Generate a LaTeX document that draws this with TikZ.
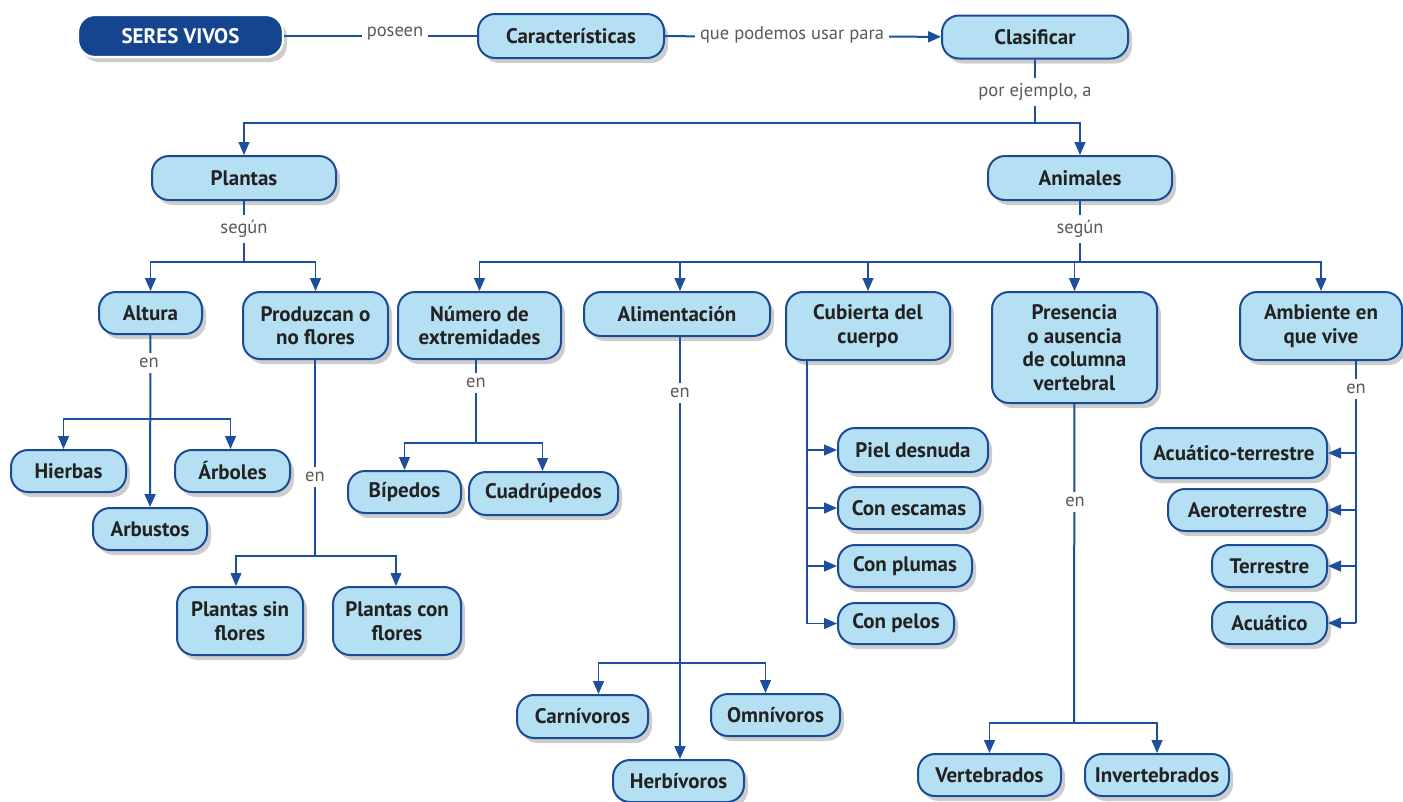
\documentclass[tikz,border=0pt]{standalone}
\usepackage{fontspec}
\setmainfont{PT Sans}
\usetikzlibrary{arrows.meta,shadows,calc}
\definecolor{boxfill}{HTML}{B5DFF2}
\definecolor{boxline}{HTML}{1B4A97}
\definecolor{titlefill}{HTML}{15458F}
\definecolor{linecol}{HTML}{1D4F9E}
\definecolor{txt}{HTML}{222222}
\definecolor{lab}{HTML}{5A5A5A}
\begin{document}
\begin{tikzpicture}[x=1pt,y=-1pt,
  box/.style={draw=boxline, line width=2pt, fill=boxfill, rounded corners=17pt,
    font=\fontsize{21}{23.5}\selectfont\bfseries, text=txt, align=center, inner sep=0pt,
    drop shadow={shadow xshift=4pt, shadow yshift=-5pt, opacity=0.28, fill=black!70}},
  title/.style={box, fill=titlefill, draw=white, text=white, line width=2.2pt},
  sz/.style 2 args={minimum width=#1pt, minimum height=#2pt},
  conn/.style={draw=linecol, line width=2pt},
  br/.style={draw=linecol, line width=1.3pt},
  arr/.style={-{Triangle[length=13pt,width=11pt]}},
  lbl/.style={fill=white, text=lab, font=\fontsize{18.5}{20}\selectfont, inner sep=5pt}]
\useasboundingbox (0,0) rectangle (1403,801);

% ---- boxes
\node[title, sz={205}{42}] (seres) at (180.5,36) {SERES VIVOS};
\node[box, sz={186}{44}] (carac) at (571,36) {Características};
\node[box, sz={186}{43}] (clasif) at (1035,37) {Clasificar};
\node[box, sz={184}{44}] (plantas) at (244,178) {Plantas};
\node[box, sz={184}{44}] (animales) at (1080,178) {Animales};

\node[box, sz={103}{42}] (altura) at (150.5,313) {Altura};
\node[box, sz={145}{67}] (produz) at (315.5,325.5) {Produzcan o\\no flores};
\node[box, sz={163}{67}] (numero) at (479.5,325.5) {Número de\\extremidades};
\node[box, sz={186}{44}] (alim) at (677,314) {Alimentación};
\node[box, sz={164}{68}] (cubierta) at (868,326) {Cubierta del\\cuerpo};
\node[box, sz={165}{111}] (presencia) at (1074.5,347.5) {Presencia\\o ausencia\\de columna\\vertebral};
\node[box, sz={162}{68}] (ambiente) at (1321,326) {Ambiente en\\que vive};

\node[box, sz={115}{42}] (hierbas) at (68.5,471) {Hierbas};
\node[box, sz={115}{42}] (arboles) at (232.5,471) {Árboles};
\node[box, sz={114}{42}] (arbustos) at (150,529) {Arbustos};
\node[box, sz={126}{68}] (psin) at (240,621) {Plantas sin\\flores};
\node[box, sz={128}{68}] (pcon) at (397,621) {Plantas con\\flores};

\node[box, sz={113}{42}] (bipedos) at (404.5,492) {Bípedos};
\node[box, sz={149}{43}] (cuadru) at (543.5,493.5) {Cuadrúpedos};

\node[box, sz={131}{43}] (carni) at (582.5,716.5) {Carnívoros};
\node[box, sz={129}{42}] (omni) at (775.5,715) {Omnívoros};
\node[box, sz={131}{42}] (herbi) at (678.5,781) {Herbívoros};

\node[box, sz={150}{44}] (piel) at (913,450) {Piel desnuda};
\node[box, sz={142}{42}] (escamas) at (909,508) {Con escamas};
\node[box, sz={134}{42}] (plumas) at (905,566) {Con plumas};
\node[box, sz={116}{41}] (pelos) at (896,623.5) {Con pelos};

\node[box, sz={143}{42}] (vert) at (989.5,775) {Vertebrados};
\node[box, sz={144}{42}] (invert) at (1157,775) {Invertebrados};

\node[box, sz={186}{50}] (acuterr) at (1234,453) {Acuático-terrestre};
\node[box, sz={159}{42}] (aero) at (1247.5,510) {Aeroterrestre};
\node[box, sz={115}{42}] (terr) at (1269.5,566) {Terrestre};
\node[box, sz={115}{42}] (acu) at (1269.5,623) {Acuático};

% ---- junction coordinates
\coordinate (c1) at (1035,123);
\coordinate (p1) at (244,262);
\coordinate (a1) at (1080,262);
\coordinate (al1) at (150,419);
\coordinate (pr1) at (315,556);
\coordinate (nu1) at (476,443);
\coordinate (ali1) at (680,663);
\coordinate (cu1) at (807,623.5);
\coordinate (pe1) at (1074,723);
\coordinate (am1) at (1356,623);

% ---- connectors
\draw[conn] (seres) -- (carac);
\draw[conn, arr] (carac) -- (clasif);
\draw[conn] (clasif) -- (c1);
\draw[br, arr] (c1) -| (plantas);
\draw[br, arr] (c1) -| (animales);

\draw[conn] (plantas) -- (p1);
\draw[br, arr] (p1) -| (altura);
\draw[br, arr] (p1) -| (produz);
\draw[conn] (animales) -- (a1);
\draw[br, arr] (a1) -| (numero);
\draw[br, arr] (a1) -| (alim.north -| ali1);
\draw[br, arr] (a1) -| (cubierta);
\draw[br, arr] (a1) -| (presencia);
\draw[br, arr] (a1) -| (ambiente);

\draw[conn, arr] (altura) -- (arbustos);
\draw[br, arr] (al1) -| ([xshift=-5pt]hierbas.north);
\draw[br, arr] (al1) -| ([xshift=-2pt]arboles.north);

\draw[conn] (produz.south -| pr1) -- (pr1);
\draw[br, arr] (pr1) -| ([xshift=-4pt]psin.north);
\draw[br, arr] (pr1) -| ([xshift=-1pt]pcon.north);

\draw[conn] (numero.south -| nu1) -- (nu1);
\draw[br, arr] (nu1) -| (bipedos);
\draw[br, arr] (nu1) -| ([xshift=-1pt]cuadru.north);

\draw[conn, arr] (alim.south -| ali1) -- (herbi.north -| ali1);
\draw[br, arr] (ali1) -| ([xshift=16pt]carni.north);
\draw[br, arr] (ali1) -| ([xshift=-10pt]omni.north);

\draw[br] (cubierta.south -| cu1) -- (cu1);
\draw[br, arr] (piel.west -| cu1) -- (piel.west);
\draw[br, arr] (escamas.west -| cu1) -- (escamas.west);
\draw[br, arr] (plumas.west -| cu1) -- (plumas.west);
\draw[br, arr] (cu1) -- (pelos.west);

\draw[conn] (presencia) -- (pe1);
\draw[br, arr] (pe1) -| (vert);
\draw[br, arr] (pe1) -| (invert);

\draw[br] (ambiente.south -| am1) -- (am1);
\draw[br, arr] (acuterr.east -| am1) -- (acuterr.east);
\draw[br, arr] (aero.east -| am1) -- (aero.east);
\draw[br, arr] (terr.east -| am1) -- (terr.east);
\draw[br, arr] (am1) -- (acu.east);

% ---- labels
\node[lbl] (l1) at (395,34) {poseen};
\node[lbl] (l2) at (792,35) {que podemos usar para};
\node[lbl] (l3) at (1035,92) {por ejemplo, a};
\node[lbl] (l4) at (244,229) {según};
\node[lbl] (l5) at (1080,229) {según};
\node[lbl] (l6) at (149,363) {en};
\node[lbl] (l7) at (315,477) {en};
\node[lbl] (l8) at (476,383) {en};
\node[lbl] (l9) at (680,393) {en};
\node[lbl] (l10) at (1075,502) {en};
\node[lbl] (l11) at (1356,389) {en};
\end{tikzpicture}
\end{document}
